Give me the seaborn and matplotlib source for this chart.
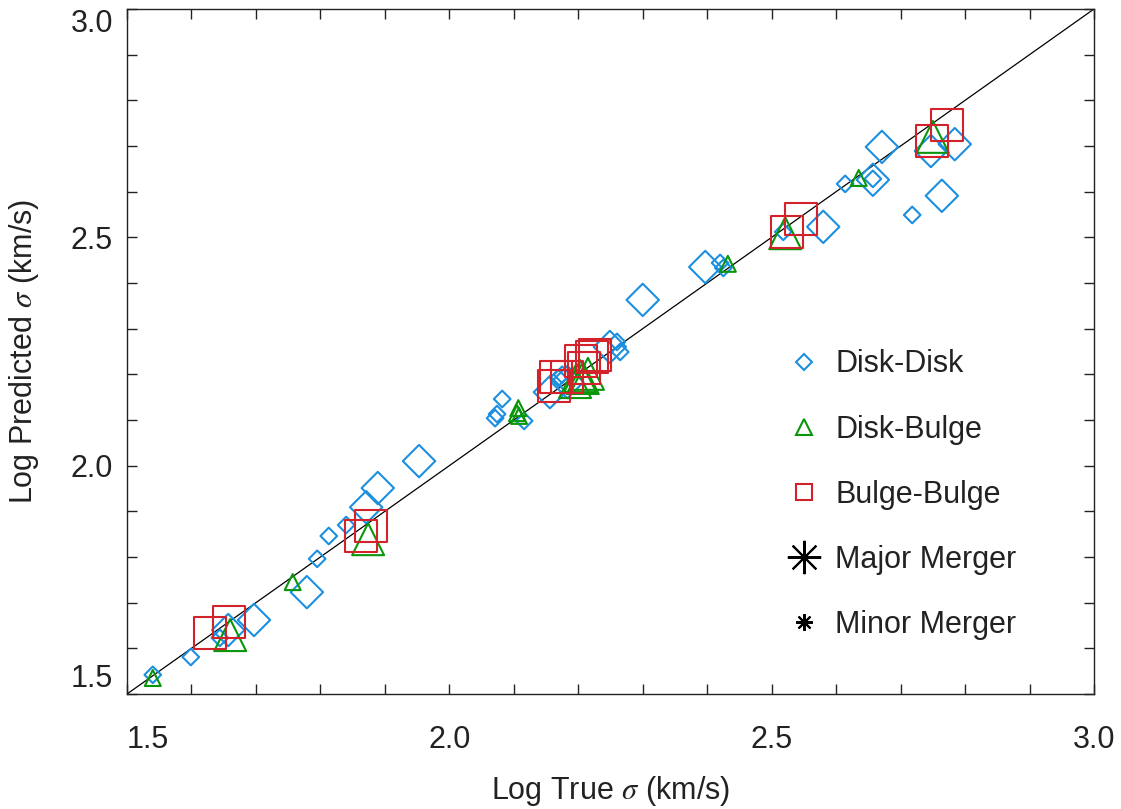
import matplotlib
matplotlib.use("Agg")
import matplotlib.pyplot as plt
from matplotlib.lines import Line2D
from matplotlib.ticker import MultipleLocator, FormatStrFormatter
import pandas as pd
import seaborn as sns

# log sigma values (true, predicted)
dd_minor_true = [1.540, 1.599, 1.644, 1.795, 1.813, 1.840, 2.071, 2.074, 2.082, 2.116,
                 2.169, 2.175, 2.260, 2.265, 2.420, 2.425, 2.518, 2.614, 2.657, 2.718]
dd_minor_pred = [1.542, 1.581, 1.623, 1.796, 1.846, 1.870, 2.104, 2.113, 2.146, 2.098,
                 2.192, 2.199, 2.271, 2.249, 2.444, 2.433, 2.512, 2.617, 2.628, 2.549]

dd_major_true = [1.657, 1.697, 1.779, 1.871, 1.889, 1.953, 2.156, 2.183, 2.249, 2.300,
                 2.397, 2.580, 2.657, 2.671, 2.747, 2.764, 2.784]
dd_major_pred = [1.640, 1.662, 1.723, 1.909, 1.951, 2.010, 2.161, 2.183, 2.260, 2.363,
                 2.435, 2.523, 2.626, 2.698, 2.689, 2.591, 2.704]

db_minor_true = [1.540, 1.757, 2.107, 2.105, 2.108, 2.432, 2.635]
db_minor_pred = [1.535, 1.745, 2.126, 2.115, 2.109, 2.442, 2.630]

db_major_true = [1.660, 1.874, 2.203, 2.215, 2.207, 2.195, 2.521, 2.750]
db_major_pred = [1.629, 1.839, 2.196, 2.201, 2.192, 2.183, 2.509, 2.720]

bb_major_true = [1.629, 1.658, 1.863, 1.878, 2.162, 2.165, 2.183, 2.204, 2.209, 2.221,
                 2.226, 2.524, 2.545, 2.749, 2.772]
bb_major_pred = [1.634, 1.658, 1.846, 1.868, 2.174, 2.194, 2.194, 2.229, 2.214, 2.238,
                 2.242, 2.512, 2.540, 2.711, 2.746]

kinds = ["Disk-Disk", "Disk-Bulge", "Bulge-Bulge"]
lims = [1.5, 3.0]

frames = []
for kind, merger, xs, ys in [
    ("Disk-Disk", "Minor", dd_minor_true, dd_minor_pred),
    ("Disk-Disk", "Major", dd_major_true, dd_major_pred),
    ("Disk-Bulge", "Minor", db_minor_true, db_minor_pred),
    ("Disk-Bulge", "Major", db_major_true, db_major_pred),
    ("Bulge-Bulge", "Major", bb_major_true, bb_major_pred),
]:
    frames.append(pd.DataFrame({"true": xs, "pred": ys, "kind": kind, "merger": merger}))
df = pd.concat(frames, ignore_index=True)

markers = {"Disk-Disk": "D", "Disk-Bulge": "^", "Bulge-Bulge": "s"}
colors = {"Disk-Disk": "#1b8fe0", "Disk-Bulge": "#0a960a", "Bulge-Bulge": "#d2232a"}
sizes = {("Disk-Disk", "Minor"): 72, ("Disk-Disk", "Major"): 272,
         ("Disk-Bulge", "Minor"): 132, ("Disk-Bulge", "Major"): 529,
         ("Bulge-Bulge", "Minor"): 132, ("Bulge-Bulge", "Major"): 529}

sns.set_style("ticks")
plt.rcParams["font.family"] = ["Liberation Sans", "DejaVu Sans"]
plt.rcParams["mathtext.fontset"] = "stix"

fig = plt.figure(figsize=(11.21, 8.09), dpi=100)
ax = fig.add_axes([127 / 1121, 1 - 694 / 809, 967 / 1121, 685 / 809])

ax.plot(lims, lims, color="black", lw=0.9, zorder=1)

for kind in kinds:
    for merger in ["Minor", "Major"]:
        sub = df[(df["kind"] == kind) & (df["merger"] == merger)]
        if sub.empty:
            continue
        sns.scatterplot(data=sub, x="true", y="pred", marker=markers[kind],
                        s=sizes[(kind, merger)], facecolor="none",
                        edgecolor=colors[kind], linewidth=1.5, ax=ax, zorder=2)

ax.set_xlim(lims)
ax.set_ylim(lims)
ax.xaxis.set_major_locator(MultipleLocator(0.5))
ax.yaxis.set_major_locator(MultipleLocator(0.5))
ax.xaxis.set_minor_locator(MultipleLocator(0.1))
ax.yaxis.set_minor_locator(MultipleLocator(0.1))
ax.xaxis.set_major_formatter(FormatStrFormatter("%.1f"))
ax.yaxis.set_major_formatter(FormatStrFormatter("%.1f"))
ax.tick_params(which="both", direction="in", top=True, right=True,
               length=7.2, width=1, color="#222222")
ax.tick_params(axis="x", which="major", pad=22, labelsize=22, labelcolor="#222222")
ax.tick_params(axis="y", which="major", pad=10, labelsize=22, labelcolor="#222222")
for sp in ax.spines.values():
    sp.set_color("#222222")
    sp.set_linewidth(1)

ax.set_xlabel(r"Log True $\sigma$ (km/s)", fontsize=22, labelpad=14, color="#222222")
ax.set_ylabel(r"Log Predicted $\sigma$ (km/s)", fontsize=22, labelpad=21, color="#222222")

handles = [
    Line2D([], [], ls="none", marker="D", ms=8.5, mfc="none", mec=colors["Disk-Disk"], mew=1.5),
    Line2D([], [], ls="none", marker="^", ms=12, mfc="none", mec=colors["Disk-Bulge"], mew=1.5),
    Line2D([], [], ls="none", marker="s", ms=12, mfc="none", mec=colors["Bulge-Bulge"], mew=1.5),
    (Line2D([], [], ls="none", marker=(8, 2, 0), ms=24, color="black", mew=1.5),
     Line2D([], [], ls="none", marker="o", ms=3, color="black")),
    (Line2D([], [], ls="none", marker=(8, 2, 0), ms=12, color="black", mew=1.5),
     Line2D([], [], ls="none", marker="o", ms=2, color="black")),
]
labels = kinds + ["Major Merger", "Minor Merger"]
leg = ax.legend(handles, labels, loc="upper left", bbox_to_anchor=(0.6846, 0.503),
                frameon=False, fontsize=22, handlelength=1.0, handletextpad=0.52,
                labelspacing=1.15, borderpad=0, borderaxespad=0)
for t in leg.get_texts():
    t.set_color("#222222")

# end labels pulled inside the box, like the original
fig.canvas.draw()
for lab in ax.get_xticklabels():
    if lab.get_text() == "1.5":
        lab.set_ha("left")
for lab in ax.get_yticklabels():
    if lab.get_text() == "1.5":
        lab.set_va("bottom")
    elif lab.get_text() == "3.0":
        lab.set_va("top")

fig.savefig("out.png", dpi=100)
